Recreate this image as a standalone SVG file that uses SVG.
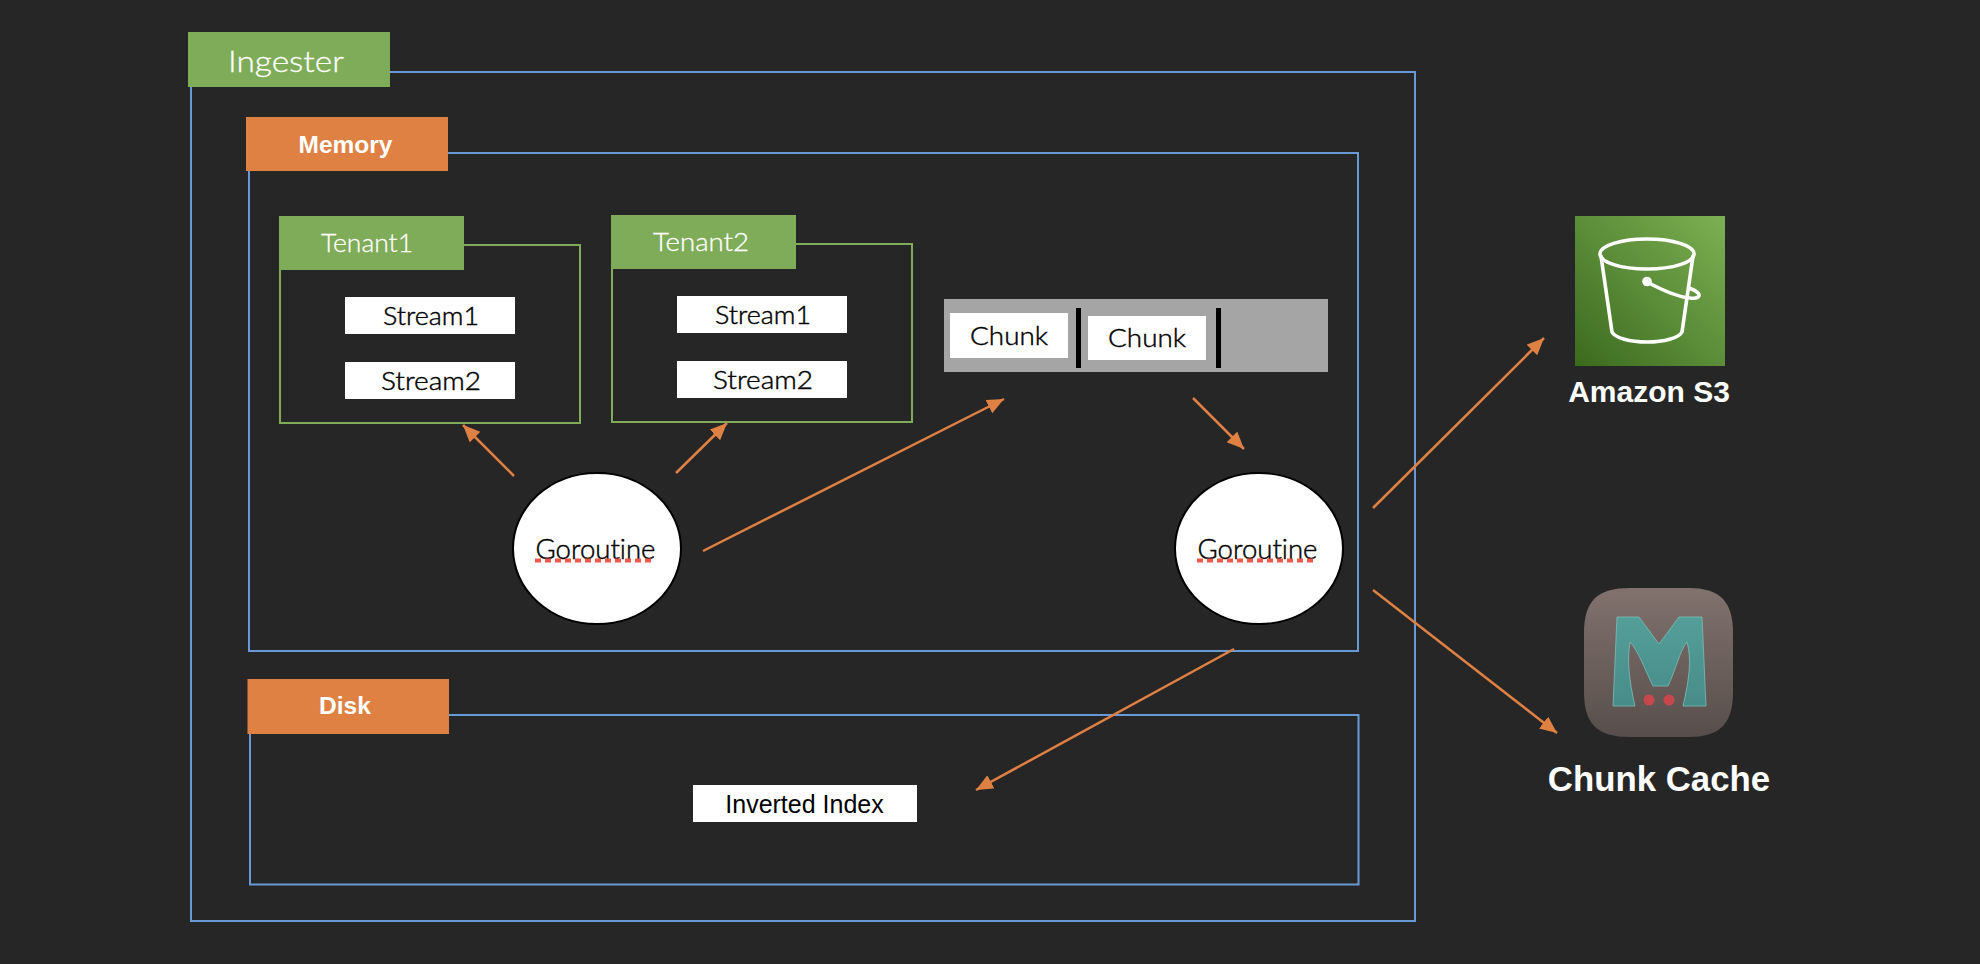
<svg xmlns="http://www.w3.org/2000/svg" width="1980" height="964" viewBox="0 0 1980 964">
<style>
.box{fill:none;stroke:#6A9AD6;stroke-width:2}
.tbox{fill:none;stroke:#7FAC58;stroke-width:2}
.green{fill:#7FAC58}
.orange{fill:#E08144}
.white{fill:#fff}
.lbl{font-family:"Lato","Open Sans",sans-serif;font-weight:300;font-variant-ligatures:none;stroke:#000;stroke-width:.45}
.lw{fill:#fff;stroke:#fff;stroke-width:.3}
.hd{font-family:"Liberation Sans",Arial,sans-serif;font-weight:700;fill:#fff;text-anchor:middle}
.conn{stroke:#E08144;stroke-width:2.5;fill:none;marker-end:url(#arrow)}
.gor{fill:#fff;stroke:#000;stroke-width:2}
.squig{stroke:#EE5A4A;stroke-width:4;stroke-dasharray:6 4;fill:none}
.bk{fill:none;stroke:#fff;stroke-width:3.6;stroke-linecap:round;stroke-linejoin:round}
</style>
<defs>
<marker id="arrow" markerUnits="userSpaceOnUse" markerWidth="19" markerHeight="16" refX="17" refY="7.500" orient="auto"><path d="M0 0L17 7.500L0 15Z" fill="#E08144"/></marker>
<linearGradient id="s3g" x1="0" y1="1" x2="1" y2="0"><stop offset="0" stop-color="#3B6A1E"/><stop offset="1" stop-color="#7DB053"/></linearGradient>
<linearGradient id="mcg" x1="0" y1="0" x2="0" y2="1"><stop offset="0" stop-color="#81726D"/><stop offset="1" stop-color="#574E4B"/></linearGradient>
<linearGradient id="mg" x1="0" y1="0" x2="0" y2="1"><stop offset="0" stop-color="#549E9A"/><stop offset="1" stop-color="#478C88"/></linearGradient>
</defs>
<rect width="1980" height="964" fill="#262626"/>
<g id="ingester"><rect class="box" x="191" y="72" width="1224" height="849"/><rect class="green" x="188" y="32" width="202" height="55"/><text class="lbl lw" x="286" y="72" font-size="30" text-anchor="middle" textLength="116" lengthAdjust="spacingAndGlyphs">Ingester</text></g>
<g id="memory"><rect class="box" x="249" y="153" width="1109" height="498"/><rect class="orange" x="246" y="117" width="202" height="54"/><text class="hd" x="345.500" y="153" font-size="24.500">Memory</text></g>
<g id="disk"><rect class="box" x="250" y="715" width="1108.500" height="169.500"/><rect class="orange" x="247.500" y="679" width="201.500" height="55"/><text class="hd" x="345" y="714" font-size="24.500">Disk</text></g>
<g id="tenant1"><rect class="tbox" x="280" y="245" width="300" height="178"/><rect class="green" x="279" y="216" width="185" height="54"/><text class="lbl lw" x="367" y="252" font-size="26" text-anchor="middle" textLength="92" lengthAdjust="spacingAndGlyphs">Tenant1</text></g>
<g id="t1-stream1"><rect class="white" x="345" y="297" width="170" height="37"/><text class="lbl" x="431" y="325" font-size="26" text-anchor="middle" textLength="96" lengthAdjust="spacingAndGlyphs">Stream1</text></g>
<g id="t1-stream2"><rect class="white" x="345" y="362" width="170" height="37"/><text class="lbl" x="431" y="390" font-size="26" text-anchor="middle" textLength="100" lengthAdjust="spacingAndGlyphs">Stream2</text></g>
<g id="tenant2"><rect class="tbox" x="612" y="244" width="300" height="178"/><rect class="green" x="611" y="215" width="185" height="54"/><text class="lbl lw" x="701" y="251" font-size="26" text-anchor="middle" textLength="96" lengthAdjust="spacingAndGlyphs">Tenant2</text></g>
<g id="t2-stream1"><rect class="white" x="677" y="296" width="170" height="37"/><text class="lbl" x="763" y="324" font-size="26" text-anchor="middle" textLength="96" lengthAdjust="spacingAndGlyphs">Stream1</text></g>
<g id="t2-stream2"><rect class="white" x="677" y="361" width="170" height="37"/><text class="lbl" x="763" y="389" font-size="26" text-anchor="middle" textLength="100" lengthAdjust="spacingAndGlyphs">Stream2</text></g>
<g id="chunks"><rect x="944" y="299" width="384" height="73" fill="#A5A5A5"/><rect x="1076" y="308" width="5" height="60"/><rect x="1216" y="308" width="5" height="60"/></g>
<g id="chunk1"><rect class="white" x="950" y="313" width="118" height="45"/><text class="lbl" x="1009" y="345" font-size="26" text-anchor="middle" textLength="78" lengthAdjust="spacingAndGlyphs">Chunk</text></g>
<g id="chunk2"><rect class="white" x="1088" y="316" width="118" height="44"/><text class="lbl" x="1147" y="347" font-size="26" text-anchor="middle" textLength="78" lengthAdjust="spacingAndGlyphs">Chunk</text></g>
<g id="goroutine1"><ellipse class="gor" cx="597" cy="548.500" rx="84" ry="75.500"/><text class="lbl" x="595.500" y="558.500" font-size="27" text-anchor="middle" textLength="120" lengthAdjust="spacingAndGlyphs">Goroutine</text><line class="squig" x1="535" y1="560.500" x2="651" y2="560.500"/></g>
<g id="goroutine2"><ellipse class="gor" cx="1259" cy="548.500" rx="84" ry="75.500"/><text class="lbl" x="1257.500" y="558.500" font-size="27" text-anchor="middle" textLength="120" lengthAdjust="spacingAndGlyphs">Goroutine</text><line class="squig" x1="1197" y1="560.500" x2="1313" y2="560.500"/></g>
<g id="inverted-index"><rect class="white" x="693" y="785" width="224" height="37"/><text x="804.500" y="813" font-family="Liberation Sans,Arial,sans-serif" font-size="25" text-anchor="middle">Inverted Index</text></g>
<g id="s3"><rect x="1575" y="216" width="150" height="150" fill="url(#s3g)"/>
<ellipse class="bk" cx="1647" cy="254" rx="47" ry="15"/>
<path class="bk" d="M1601 256L1612 332C1615 338 1630 342 1647 342C1664 342 1679 338 1682 332L1693 256"/>
<path class="bk" d="M1647 282C1662 290 1677 297 1690 298C1698 299 1701 296 1698 293C1696 291 1692 289 1689 288"/>
<circle cx="1647" cy="281.500" r="4.800" fill="#fff"/>
<text class="hd" x="1649" y="402" font-size="30">Amazon S3</text></g>
<g id="chunk-cache"><path d="M1630 588H1688C1720 588 1733 601 1733 633V692C1733 724 1720 737 1688 737H1630C1597 737 1584 724 1584 692V633C1584 601 1597 588 1630 588Z" fill="url(#mcg)"/>
<path d="M1617 617H1639L1659 644L1679 617H1702L1706 706H1683C1689 680 1692 660 1687 642C1680 650 1675 672 1668 686H1653C1646 672 1638 650 1630 642C1627 660 1629 680 1635 706H1613Z" fill="url(#mg)" stroke="#7DBDB8" stroke-width=".8"/>
<circle cx="1649" cy="700" r="5.500" fill="#C8474A"/><circle cx="1669" cy="700" r="5.500" fill="#C8474A"/>
<text class="hd" x="1659" y="791" font-size="34.800">Chunk Cache</text></g>
<g id="connectors">
<line class="conn" x1="514" y1="476" x2="463" y2="425"/>
<line class="conn" x1="676" y1="473" x2="727" y2="423"/>
<line class="conn" x1="703" y1="551" x2="1004" y2="399"/>
<line class="conn" x1="1193" y1="398" x2="1244" y2="449"/>
<line class="conn" x1="1373" y1="508" x2="1544" y2="338"/>
<line class="conn" x1="1373" y1="590" x2="1557" y2="733"/>
<line class="conn" x1="1234" y1="649" x2="976" y2="790"/>
</g>
</svg>
